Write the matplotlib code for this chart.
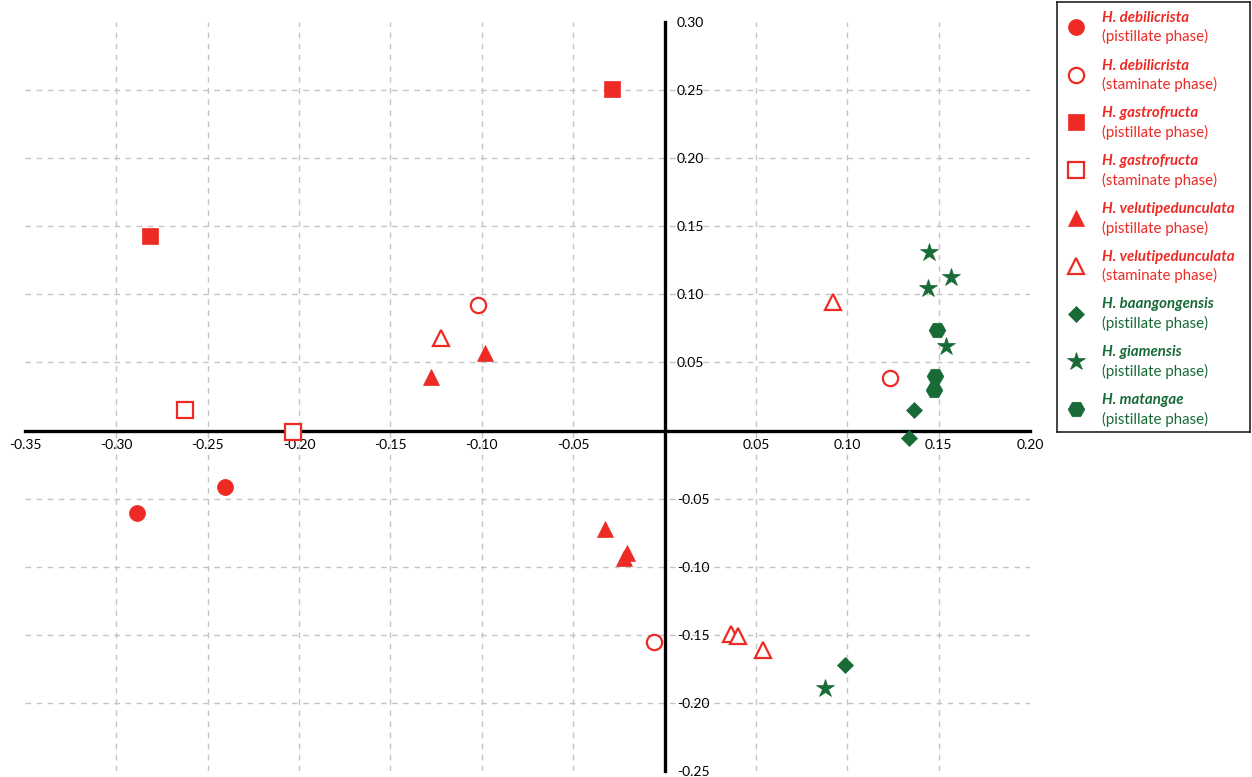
import matplotlib
matplotlib.use("Agg")
import matplotlib.pyplot as plt
import numpy as np

plt.rcParams['font.family'] = ['Lato', 'DejaVu Sans']

RED = '#ED2A24'
GREEN = '#186A37'

# ---- data ----
debilicrista_pist_x = [-0.2406, -0.2887]
debilicrista_pist_y = [-0.0414, -0.0605]
debilicrista_stam_x = [-0.1021, 0.1234, -0.0058]
debilicrista_stam_y = [0.0922, 0.0386, -0.1554]
gastrofructa_pist_x = [-0.0288, -0.2816]
gastrofructa_pist_y = [0.2508, 0.1429]
gastrofructa_stam_x = [-0.2625, -0.2034]
gastrofructa_stam_y = [0.0151, -0.0010]
velutiped_pist_x = [-0.0983, -0.1279, -0.0326, -0.0206, -0.0222]
velutiped_pist_y = [0.0570, 0.0394, -0.0722, -0.0899, -0.0936]
velutiped_stam_x = [-0.1223, 0.0922, 0.0364, 0.0402, 0.0539]
velutiped_stam_y = [0.0679, 0.0943, -0.1493, -0.1508, -0.1611]
baangong_x = [0.1366, 0.1339, 0.0988]
baangong_y = [0.0151, -0.0054, -0.1721]
giamensis_x = [0.1447, 0.1568, 0.1442, 0.1540, 0.0877]
giamensis_y = [0.1311, 0.1127, 0.1047, 0.0621, -0.1891]
matangae_x = [0.1491, 0.1480, 0.1475]
matangae_y = [0.0738, 0.0401, 0.0298]

species = ['H. debilicrista', 'H. debilicrista', 'H. gastrofructa', 'H. gastrofructa',
           'H. velutipedunculata', 'H. velutipedunculata', 'H. baangongensis',
           'H. giamensis', 'H. matangae']
phases = ['(pistillate phase)', '(staminate phase)', '(pistillate phase)', '(staminate phase)',
          '(pistillate phase)', '(staminate phase)', '(pistillate phase)',
          '(pistillate phase)', '(pistillate phase)']
xs = [debilicrista_pist_x, debilicrista_stam_x, gastrofructa_pist_x, gastrofructa_stam_x,
      velutiped_pist_x, velutiped_stam_x, baangong_x, giamensis_x, matangae_x]
ys = [debilicrista_pist_y, debilicrista_stam_y, gastrofructa_pist_y, gastrofructa_stam_y,
      velutiped_pist_y, velutiped_stam_y, baangong_y, giamensis_y, matangae_y]

markers = ['o', 'o', 's', 's', '^', '^', 'D', '*', 'H']
filled = [True, False, True, False, True, False, True, True, True]
colors = [RED, RED, RED, RED, RED, RED, GREEN, GREEN, GREEN]
msizes = [11.5, 11.0, 11.5, 11.0, 12.0, 12.0, 8.5, 13.5, 12.0]

x_ticks = [-0.35, -0.30, -0.25, -0.20, -0.15, -0.10, -0.05, 0.0, 0.05, 0.10, 0.15, 0.20]
y_ticks = [-0.25, -0.20, -0.15, -0.10, -0.05, 0.0, 0.05, 0.10, 0.15, 0.20, 0.25, 0.30]

W, H = 1252, 777
fig = plt.figure(figsize=(W / 100, H / 100), dpi=100)
ax = fig.add_axes([25 / W, 6 / H, 1005 / W, 749 / H])
ax.set_xlim(-0.35, 0.20)
ax.set_ylim(-0.25, 0.30)

ax.set_xticks(x_ticks)
ax.set_yticks(y_ticks)

# dashed grid on interior ticks only
gx = [v for v in x_ticks if v not in (-0.35, 0.20, 0.0)]
gy = [v for v in y_ticks if v not in (-0.25, 0.30, 0.0)]
grid_kw = dict(color='#c4c4c4', linestyle=(0, (4, 4)), linewidth=1.0, zorder=0.5)
ax.vlines(gx, -0.25, 0.30, **grid_kw)
ax.hlines(gy, -0.35, 0.20, **grid_kw)

# spines through origin
ax.spines['left'].set_position(('data', 0))
ax.spines['bottom'].set_position(('data', 0))
ax.spines['right'].set_position(('data', 0))
ax.spines['right'].set_visible(False)
ax.spines['top'].set_visible(False)
for s in ('left', 'bottom'):
    ax.spines[s].set_linewidth(2.4)
    ax.spines[s].set_color('black')
    ax.spines[s].set_zorder(1.5)

ax.yaxis.tick_right()
ax.tick_params(axis='both', length=0, labelsize=10, colors='black')
ax.tick_params(axis='y', pad=9)
ax.tick_params(axis='x', pad=6)
ax.set_xticklabels(['' if v == 0 else f'{v:.2f}' for v in x_ticks])
ax.set_yticklabels(['' if v == 0 else f'{v:.2f}' for v in y_ticks])

for x, y, m, f, c, ms in zip(xs, ys, markers, filled, colors, msizes):
    ax.plot(x, y, linestyle='none', marker=m, markersize=ms,
            markerfacecolor=c if f else 'white', markeredgecolor=c,
            markeredgewidth=1.6 if not f else 0.5, zorder=3, clip_on=False)

# legend panel
lx0, ly_top, ly_bot, lx1 = 1057, 2, 432, 1250
lax = fig.add_axes([lx0 / W, (H - ly_bot) / H, (lx1 - lx0) / W, (ly_bot - ly_top) / H])
lax.set_xlim(0, 1)
lax.set_ylim(9, 0)
lax.set_xticks([])
lax.set_yticks([])
for s in lax.spines.values():
    s.set_linewidth(1.2)
    s.set_color('#222222')
for i, (sp, ph, m, f, c, ms) in enumerate(zip(species, phases, markers, filled, colors, msizes)):
    lax.plot([0.098], [i + 0.52], linestyle='none', marker=m, markersize=ms,
             markerfacecolor=c if f else 'white', markeredgecolor=c,
             markeredgewidth=1.6 if not f else 0.5)
    lax.text(0.235, i + 0.33, sp, color=c, fontsize=10.8, fontweight='bold', fontstyle='italic',
             va='center', ha='left')
    lax.text(0.235, i + 0.73, ph, color=c, fontsize=10.8, va='center', ha='left')

fig.savefig('out.png', dpi=100)
